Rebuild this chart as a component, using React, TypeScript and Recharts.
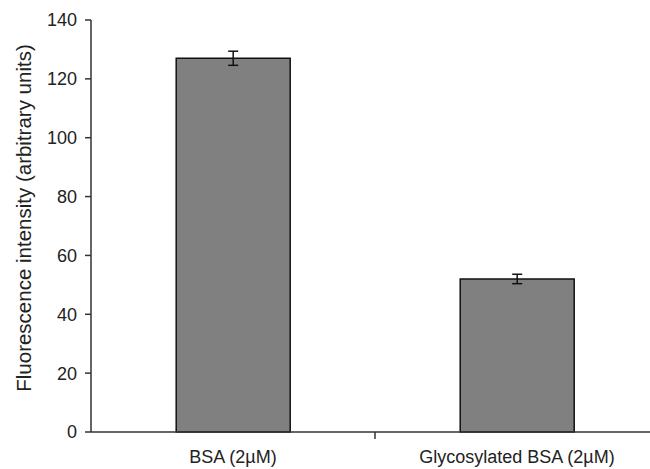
import { Bar, BarChart, ErrorBar, XAxis, YAxis } from "recharts";

const categories = ["BSA (2µM)", "Glycosylated BSA (2µM)"];
const intensity = [127, 52];
const intensityErr = [2.4, 1.6];
const yTicks = [0, 20, 40, 60, 80, 100, 120, 140];

const data = categories.map((name, i) => ({
  name,
  value: intensity[i],
  err: intensityErr[i],
}));

const FONT = '"Liberation Sans", Arial, sans-serif';
const TEXT = "#222";
const AXIS = "#333";

const YLabel = (props: any) => {
  const vb = props.viewBox || {};
  const cx = vb.x + 23;
  const cy = vb.y + vb.height / 2 - 8;
  return (
    <text
      x={cx}
      y={cy}
      transform={`rotate(-90, ${cx}, ${cy})`}
      textAnchor="middle"
      dominantBaseline="central"
      fill={TEXT}
      fontSize={20.5}
      fontFamily={FONT}
    >
      Fluorescence intensity (arbitrary units)
    </text>
  );
};

// category label plus the Excel-style tick between categories
const CatTick = (props: any) => {
  const { x, y, payload, index, visibleTicksCount } = props;
  const half = payload?.offset ?? 0;
  const axisY = y - 18;
  return (
    <g>
      {index < visibleTicksCount - 1 && half > 0 && (
        <line x1={x + half} x2={x + half} y1={axisY} y2={axisY + 7} stroke={AXIS} strokeWidth={1.5} />
      )}
      <text x={x} y={y} dy="0.71em" textAnchor="middle" fill={TEXT} fontSize={18} fontFamily={FONT}>
        {payload.value}
      </text>
    </g>
  );
};

export default function App() {
  return (
    <div style={{ position: "absolute", left: 0, top: 0, width: 650, height: 469, overflow: "hidden", background: "#fff" }}>
      <BarChart
        width={670}
        height={469}
        data={data}
        margin={{ top: 20, right: 11, left: 0, bottom: 7 }}
        barCategoryGap="30%"
        style={{ fontFamily: FONT }}
      >
        <XAxis
          dataKey="name"
          tickLine={false}
          tickSize={0}
          tickMargin={18}
          height={30}
          axisLine={{ stroke: AXIS, strokeWidth: 1.5 }}
          tick={<CatTick />}
          interval={0}
        />
        <YAxis
          domain={[0, 140]}
          ticks={yTicks}
          width={91}
          tickSize={6}
          tickMargin={8}
          axisLine={{ stroke: AXIS, strokeWidth: 1.5 }}
          tickLine={{ stroke: AXIS, strokeWidth: 1.5 }}
          tick={{ fill: TEXT, fontSize: 18 }}
          label={{ content: YLabel }}
        />
        <Bar dataKey="value" fill="#808080" stroke="#111" strokeWidth={1.5} isAnimationActive={false}>
          <ErrorBar dataKey="err" width={5} stroke="#111" strokeWidth={1.5} />
        </Bar>
      </BarChart>
    </div>
  );
}
